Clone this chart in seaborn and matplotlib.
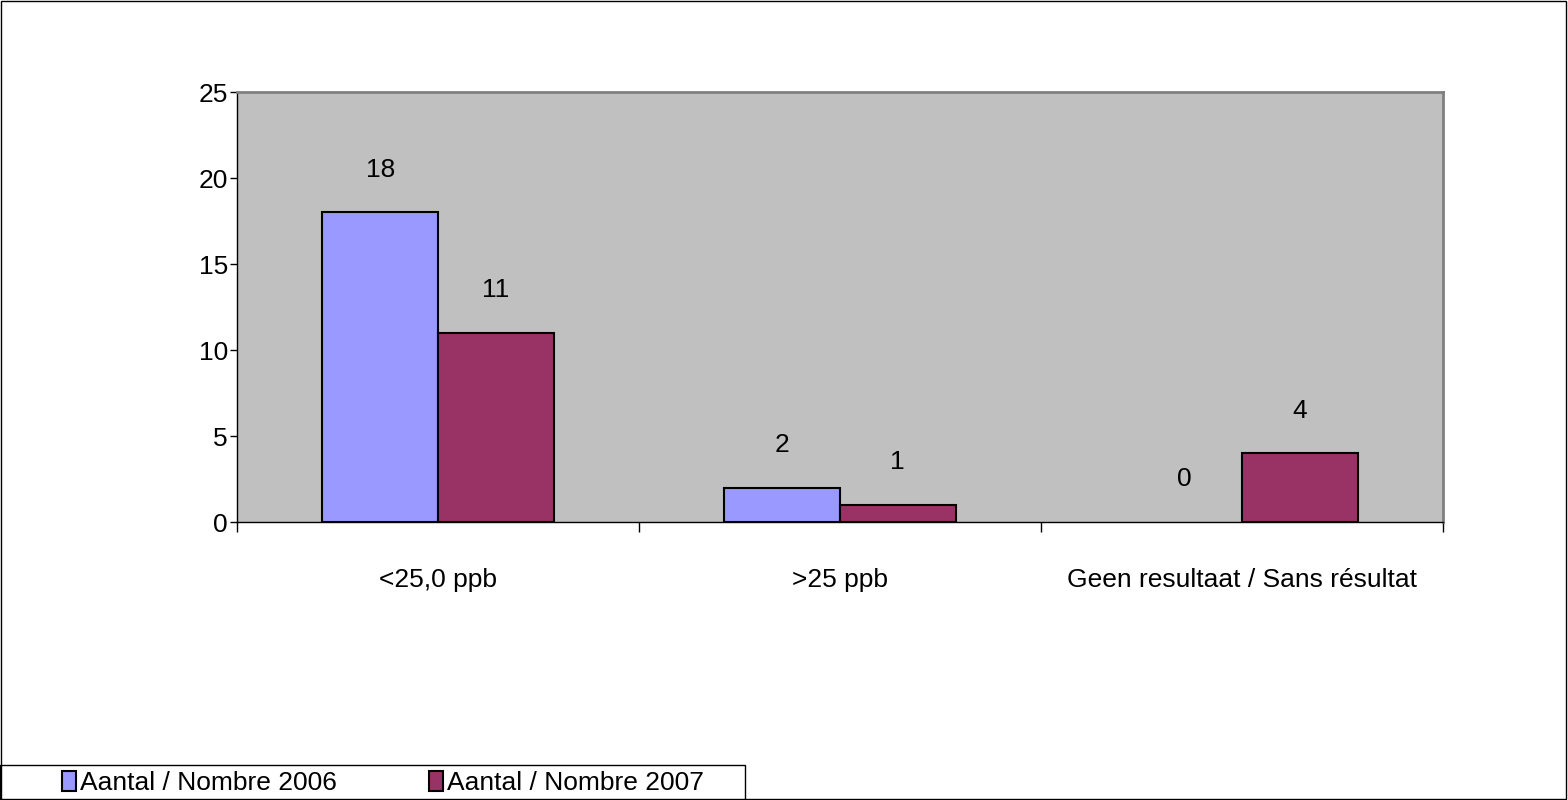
import matplotlib
matplotlib.use("Agg")
import matplotlib.pyplot as plt
import seaborn as sns
import pandas as pd
from matplotlib.patches import Rectangle, Patch

categories = ["<25,0 ppb", ">25 ppb", "Geen resultaat / Sans résultat"]
series_names = ["Aantal / Nombre 2006", "Aantal / Nombre 2007"]
values_2006 = [18, 2, 0]
values_2007 = [11, 1, 4]
colors = ["#9999FF", "#993366"]

df = pd.DataFrame({
    "cat": categories * 2,
    "series": [series_names[0]] * 3 + [series_names[1]] * 3,
    "val": values_2006 + values_2007,
})

sns.set_style("white")
plt.rcParams["font.family"] = ["Liberation Sans", "DejaVu Sans"]
plt.rcParams["text.color"] = "black"
plt.rcParams["xtick.color"] = "black"
plt.rcParams["ytick.color"] = "black"
plt.rcParams["xtick.labelcolor"] = "black"
plt.rcParams["ytick.labelcolor"] = "black"

FS = 19

fig = plt.figure(figsize=(15.68, 8), dpi=100)
ax = fig.add_axes([237/1568, 1-522/800, (1443-237)/1568, (522-92)/800])
ax.set_facecolor("#C0C0C0")

sns.barplot(data=df, x="cat", y="val", hue="series", palette=colors,
            width=0.575, edgecolor="black", linewidth=1.5, ax=ax, legend=False,
            saturation=1)

for p in ax.patches:
    if p.get_height() == 0:
        p.set_linewidth(0)

ax.set_ylim(0, 25)
ax.set_xlim(-0.5, 2.5)
ax.set_yticks([0, 5, 10, 15, 20, 25])
ax.tick_params(axis="y", labelsize=FS, length=5, width=1, direction="out", left=True, pad=1.5)
ax.set_xticks([0, 1, 2])
ax.set_xticklabels(categories)
ax.tick_params(axis="x", labelsize=FS, length=0, pad=33)
ax.set_xticks([-0.5, 0.5, 1.5, 2.5], minor=True)
ax.tick_params(axis="x", which="minor", length=7, width=1, direction="out", bottom=True)
ax.set_xlabel("")
ax.set_ylabel("")

for side in ["top", "right"]:
    ax.spines[side].set_color("#808080")
    ax.spines[side].set_linewidth(2)
for side in ["left", "bottom"]:
    ax.spines[side].set_color("black")
    ax.spines[side].set_linewidth(1)

for cont in ax.containers:
    ax.bar_label(cont, padding=22, fontsize=FS, color="black")

handles = [Patch(facecolor=c, edgecolor="black", linewidth=1.5) for c in colors]
leg = fig.legend(handles, series_names, loc="center left",
                 bbox_to_anchor=(62/1568, 1-783/800),
                 ncol=2, fontsize=FS, frameon=False,
                 handlelength=0.53, handleheight=0.76, handletextpad=0.15,
                 columnspacing=3.5, borderpad=0, borderaxespad=0)

fig.patches.append(Rectangle((0.0, 0.0), 745/1568, 35/800, transform=fig.transFigure,
                             fill=False, edgecolor="black", linewidth=1))
fig.patches.append(Rectangle((0.0005, 0.001), 0.998, 0.998, transform=fig.transFigure,
                             fill=False, edgecolor="black", linewidth=1))

fig.savefig("out.png", dpi=100)
